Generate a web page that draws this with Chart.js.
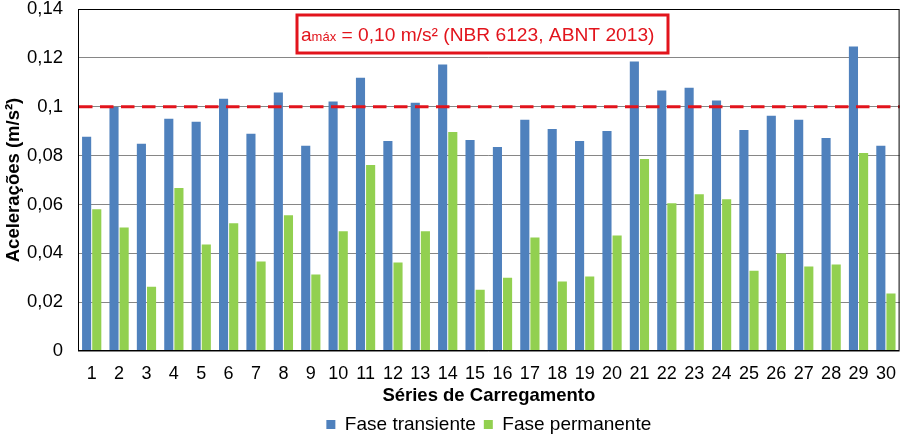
<!DOCTYPE html>
<html>
<head>
<meta charset="utf-8">
<script src="https://cdn.jsdelivr.net/npm/chart.js@4.4.1/dist/chart.umd.min.js"></script>
<style>
  html, body { margin: 0; padding: 0; background: #fff; }
  #wrap { width: 908px; height: 434px; position: relative; }
</style>
</head>
<body>
<div id="wrap"><canvas id="chart"></canvas></div>
<script>
// séries de carregamento 1..30
const series = ['1','2','3','4','5','6','7','8','9','10','11','12','13','14','15',
                '16','17','18','19','20','21','22','23','24','25','26','27','28','29','30'];

// acelerações (m/s²) — fase transiente
const transiente = [0.0877, 0.0999, 0.0848, 0.0951, 0.0938, 0.1033, 0.0889, 0.1058, 0.0840, 0.1021,
                    0.1119, 0.0860, 0.1016, 0.1173, 0.0864, 0.0835, 0.0947, 0.0909, 0.0860, 0.0901,
                    0.1185, 0.1066, 0.1078, 0.1025, 0.0905, 0.0963, 0.0947, 0.0872, 0.1247, 0.0840];

// acelerações (m/s²) — fase permanente
const permanente = [0.0580, 0.0506, 0.0263, 0.0667, 0.0436, 0.0523, 0.0366, 0.0556, 0.0313, 0.0490,
                    0.0761, 0.0362, 0.0490, 0.0897, 0.0251, 0.0300, 0.0465, 0.0284, 0.0305, 0.0473,
                    0.0786, 0.0605, 0.0642, 0.0621, 0.0329, 0.0399, 0.0346, 0.0354, 0.0811, 0.0235];

const aMax = 0.10;   // limite NBR 6123
const yTicks = [0, 0.02, 0.04, 0.06, 0.08, 0.10, 0.12, 0.14];

const FONT = "'Liberation Sans', Arial, sans-serif";
const RED  = '#e2141c';
Chart.defaults.font.family = FONT;
Chart.defaults.color = '#000';

function fmtTick(v) {
    if (v === 0) return '0';
    return v.toFixed(2).replace(/0$/, '').replace('.', ',');
}

// linha tracejada do limite + caixa de texto + moldura da área
const limitPlugin = {
    id: 'limit',
    afterDatasetsDraw(chart) {
        const { ctx, chartArea: a, scales: { y } } = chart;
        const yy = y.getPixelForValue(aMax);
        ctx.save();
        ctx.strokeStyle = RED;
        ctx.lineWidth = 3;
        ctx.setLineDash([13.5, 7.5]);
        ctx.beginPath();
        ctx.moveTo(a.left + 1, yy);
        ctx.lineTo(a.right, yy);
        ctx.stroke();
        ctx.restore();
    },
    afterDraw(chart) {
        const { ctx, chartArea: a } = chart;
        ctx.save();
        // moldura
        ctx.strokeStyle = '#000';
        ctx.lineWidth = 1;
        ctx.strokeRect(a.left + 0.5, a.top + 0.5, a.right - a.left - 1, a.bottom - a.top - 1);

        // caixa
        const bx = 297, by = 15, bw = 371, bh = 38;
        ctx.fillStyle = '#fff';
        ctx.fillRect(bx, by, bw, bh);
        ctx.strokeStyle = RED;
        ctx.lineWidth = 3;
        ctx.strokeRect(bx, by, bw, bh);

        ctx.fillStyle = RED;
        ctx.textBaseline = 'alphabetic';
        ctx.textAlign = 'left';
        let x = 301;
        const base = 41;
        ctx.font = '19px ' + FONT;
        ctx.fillText('a', x, base);
        x += ctx.measureText('a').width;
        ctx.font = '13px ' + FONT;
        ctx.fillText('máx', x, base);
        x += ctx.measureText('máx').width;
        ctx.font = '19.2px ' + FONT;
        ctx.fillText(' = 0,10 m/s² (NBR 6123, ABNT 2013)', x, base);
        ctx.restore();
    }
};

new Chart(document.getElementById('chart'), {
    type: 'bar',
    data: {
        labels: series,
        datasets: [
            { label: 'Fase transiente', data: transiente, backgroundColor: '#4f81bd' },
            { label: 'Fase permanente', data: permanente, backgroundColor: '#92d050' }
        ]
    },
    options: {
        responsive: true, maintainAspectRatio: false, animation: false,
        categoryPercentage: 0.74, barPercentage: 0.9,
        layout: { padding: { top: 9, right: 5, left: 0, bottom: -10 } },
        plugins: {
            legend: {
                position: 'bottom', fullSize: false,
                labels: { boxWidth: 9, boxHeight: 9, font: { size: 19 }, color: '#000', padding: 8 }
            },
            tooltip: { enabled: false }
        },
        scales: {
            y: {
                min: 0, max: 0.14,
                afterBuildTicks: s => { s.ticks = yTicks.map(v => ({ value: v })); },
                afterFit: s => { s.width = 78; s.paddingTop = 0; s.paddingBottom = 0; },
                ticks: { callback: v => fmtTick(v), font: { size: 18.5 }, color: '#000', padding: 15 },
                grid: { color: '#868686', drawTicks: false },
                border: { display: false },
                title: {
                    display: true, text: 'Acelerações (m/s²)',
                    font: { size: 18.5, weight: 'bold' }, color: '#000',
                    padding: { top: 3, bottom: 0 }
                }
            },
            x: {
                afterFit: s => { s.height = 56; },
                ticks: { font: { size: 18 }, color: '#000', padding: 12, maxRotation: 0, autoSkip: false },
                grid: { display: false, drawTicks: false },
                border: { display: false },
                title: {
                    display: true, text: 'Séries de Carregamento',
                    font: { size: 18.5, weight: 'bold' }, color: '#000',
                    padding: { top: 0, bottom: 0 }
                }
            }
        }
    },
    plugins: [limitPlugin]
});
</script>
</body>
</html>
